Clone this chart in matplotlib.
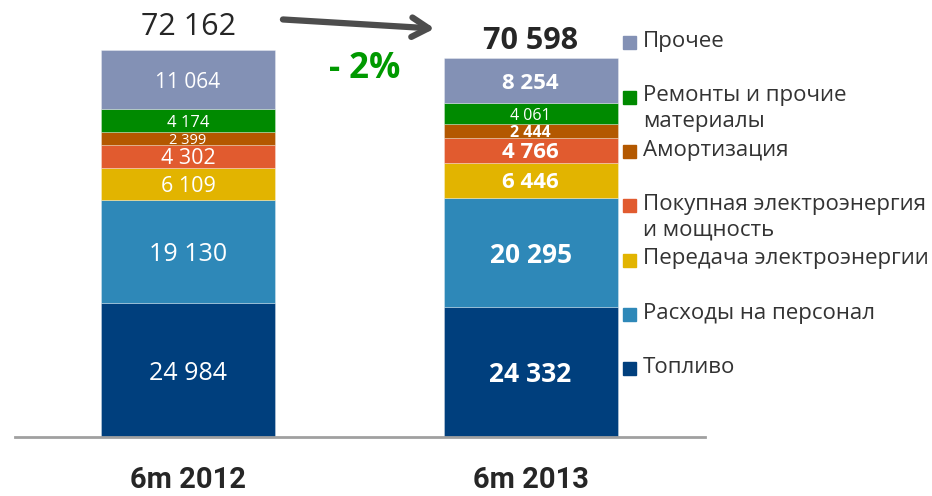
import matplotlib
matplotlib.use("Agg")
import matplotlib.pyplot as plt
from matplotlib.patches import Rectangle

periods = ["6m 2012", "6m 2013"]
# bottom -> top stacking order
categories = ["Топливо", "Расходы на персонал", "Передача электроэнергии",
              "Покупная электроэнергия\nи мощность", "Амортизация",
              "Ремонты и прочие\nматериалы", "Прочее"]
values_2012 = [24984, 19130, 6109, 4302, 2399, 4174, 11064]
values_2013 = [24332, 20295, 6446, 4766, 2444, 4061, 8254]
series = [values_2012, values_2013]

colors = ["#003F7D", "#2E88B8", "#E2B400", "#E15B2F", "#B35800", "#008A00", "#8391B5"]
label_sizes = [[18, 18, 15.5, 15.5, 10.5, 12, 15],
               [19, 19, 16, 16, 11.5, 11.5, 16]]
label_bold = [[False] * 7,
              [True, True, True, True, True, False, True]]

plt.rcParams['font.family'] = ['Open Sans', 'DejaVu Sans']

fig = plt.figure(figsize=(9.32, 4.96), dpi=100)
ax = fig.add_axes([15/932, 1-437/496, 690/932, 429/496])
ax.set_xlim(-0.505, 1.509)
ax.set_ylim(0, 80000)

width = 0.508
for i, vals in enumerate(series):
    bottom = 0
    for j, v in enumerate(vals):
        ax.bar(i, v, width=width, bottom=bottom, color=colors[j],
               edgecolor=(1, 1, 1, 0.35), linewidth=0.6, zorder=2)
        txt = f"{v:,}".replace(",", " ")
        ax.text(i, bottom + v/2, txt, ha='center', va='center_baseline', color='white',
                fontsize=label_sizes[i][j],
                fontweight='bold' if label_bold[i][j] else 'normal', zorder=3)
        bottom += v

totals = [sum(v) for v in series]
tot_offsets = [6, 1.5]
tot_bold = [False, True]
for i, t in enumerate(totals):
    ax.annotate(f"{t:,}".replace(",", " "), xy=(i, t), xytext=(0, tot_offsets[i]),
                textcoords='offset points', ha='center', va='bottom',
                fontsize=22, color='#262626',
                fontweight='bold' if tot_bold[i] else 'normal')

# arrow between totals
ax.annotate("", xy=(0.72, totals[0] + 4000), xytext=(0.277, totals[0] + 5700),
            arrowprops=dict(arrowstyle='->,head_length=1.2,head_width=0.7',
                            color='#4D4D4D', lw=4.5, shrinkA=0, shrinkB=0,
                            joinstyle='round', capstyle='round'))
pct = (totals[1] - totals[0]) / totals[0] * 100
ax.text(0.517, totals[1] - 2000, f"- {abs(round(pct)):.0f}%", ha='center', va='center',
        fontsize=25, fontweight='bold', color='#009900')

ax.set_xticks(range(len(periods)))
ax.set_xticklabels(periods, fontsize=21, fontweight='bold', color='#262626',
                   family=['Roboto', 'DejaVu Sans'])
ax.tick_params(axis='x', length=0, pad=21)
ax.set_yticks([])
for s in ['top', 'right', 'left']:
    ax.spines[s].set_visible(False)
ax.spines['bottom'].set_color('#A0A0A0')
ax.spines['bottom'].set_linewidth(2)

# legend (top -> bottom: reverse of stacking)
y0 = 1 - 43/496
step = 54.3/496
for k, j in enumerate(reversed(range(len(categories)))):
    y = y0 - k*step
    fig.patches.append(Rectangle((623/932, y - 6.5/496), 13/932, 13/496,
                                 transform=fig.transFigure, color=colors[j]))
    fig.text(643/932, y + 12/496, categories[j], ha='left', va='top', fontsize=16,
             color='#333333', linespacing=1.3)

fig.savefig("out.png", dpi=100)
